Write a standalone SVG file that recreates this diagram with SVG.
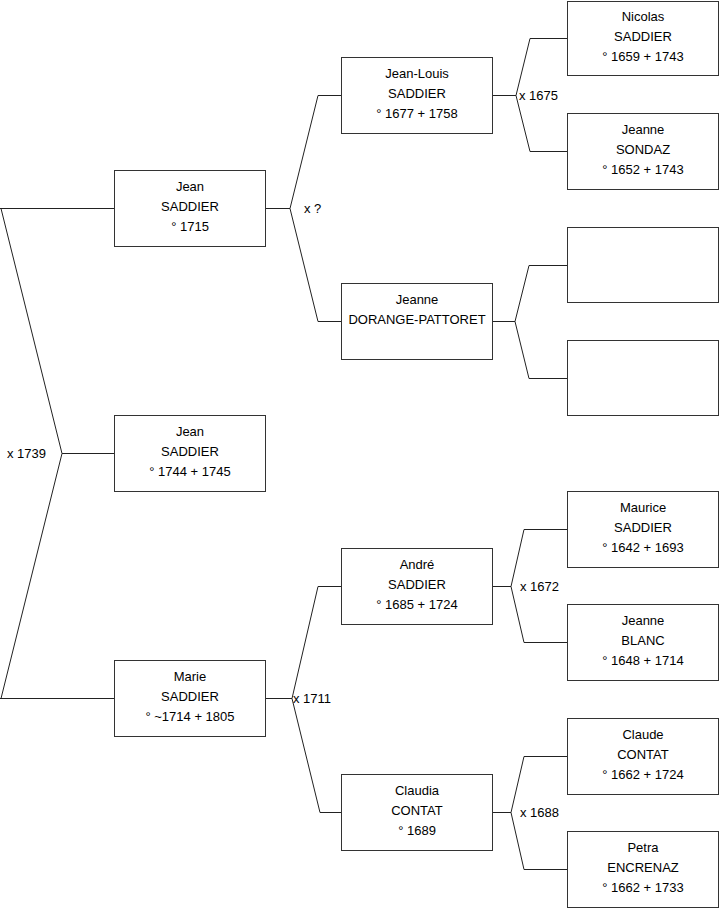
<svg xmlns="http://www.w3.org/2000/svg" width="719" height="908" viewBox="0 0 719 908">
<style>
rect.b{fill:#fff;stroke:#333;stroke-width:1}
text{font-family:"Liberation Sans",Arial,sans-serif;font-size:13px;fill:#000}
.n text{text-anchor:middle}
#connectors path{fill:none;stroke:#222;stroke-width:1}
</style>
<rect width="719" height="908" fill="#fff"/>
<g id="connectors">
<path d="M0,208.5 H114.5 M0,698.5 H114.5 M1,208.5 L62,453.5 L1,698.5 M62,453.5 H114.5"/>
<path d="M265,208.5 H290 M341,95.5 H318 L290,208.5 L318,321.5 H341"/>
<path d="M265,698.5 H292 M341,586.5 H318 L292,698.5 L320,812.5 H341"/>
<path d="M492,95.5 H516 M567,38.5 H530 L516,95.5 L530,151.5 H567"/>
<path d="M492,321.5 H515 M567,265.5 H529 L515,321.5 L529,378.5 H567"/>
<path d="M492,586.5 H511 M567,529.5 H524 L511,586.5 L524,642.5 H567"/>
<path d="M492,812.5 H511 M567,756.5 H524 L511,812.5 L524,869.5 H567"/>
</g>
<g id="labels">
<text x="7" y="458">x 1739</text>
<text x="304" y="212.5">x ?</text>
<text x="293" y="703">x 1711</text>
<text x="519" y="100">x 1675</text>
<text x="520" y="591">x 1672</text>
<text x="520" y="817">x 1688</text>
</g>
<g id="n-jean" class="n"><rect class="b" x="114.5" y="170.5" width="151" height="76"/><text x="190" y="190.5">Jean</text><text x="190" y="210.5">SADDIER</text><text x="190" y="230.5">° 1715</text></g>
<g id="n-jean2" class="n"><rect class="b" x="114.5" y="415.5" width="151" height="76"/><text x="190" y="435.5">Jean</text><text x="190" y="455.5">SADDIER</text><text x="190" y="475.5">° 1744 + 1745</text></g>
<g id="n-marie" class="n"><rect class="b" x="114.5" y="660.5" width="151" height="76"/><text x="190" y="680.5">Marie</text><text x="190" y="700.5">SADDIER</text><text x="190" y="720.5">° ~1714 + 1805</text></g>
<g id="n-jeanlouis" class="n"><rect class="b" x="341.5" y="57.5" width="151" height="76"/><text x="417" y="77.5">Jean-Louis</text><text x="417" y="97.5">SADDIER</text><text x="417" y="117.5">° 1677 + 1758</text></g>
<g id="n-jeanne-dorange" class="n"><rect class="b" x="341.5" y="283.5" width="151" height="76"/><text x="417" y="303.5">Jeanne</text><text x="417" y="323.5">DORANGE-PATTORET</text></g>
<g id="n-andre" class="n"><rect class="b" x="341.5" y="548.5" width="151" height="76"/><text x="417" y="568.5">André</text><text x="417" y="588.5">SADDIER</text><text x="417" y="608.5">° 1685 + 1724</text></g>
<g id="n-claudia" class="n"><rect class="b" x="341.5" y="774.5" width="151" height="76"/><text x="417" y="794.5">Claudia</text><text x="417" y="814.5">CONTAT</text><text x="417" y="834.5">° 1689</text></g>
<g id="n-nicolas" class="n"><rect class="b" x="567.5" y="1.5" width="151" height="74"/><text x="643" y="20.5">Nicolas</text><text x="643" y="40.5">SADDIER</text><text x="643" y="60.5">° 1659 + 1743</text></g>
<g id="n-jeanne-sondaz" class="n"><rect class="b" x="567.5" y="113.5" width="151" height="76"/><text x="643" y="133.5">Jeanne</text><text x="643" y="153.5">SONDAZ</text><text x="643" y="173.5">° 1652 + 1743</text></g>
<g id="n-empty1" class="n"><rect class="b" x="567.5" y="227.5" width="151" height="75"/></g>
<g id="n-empty2" class="n"><rect class="b" x="567.5" y="340.5" width="151" height="75"/></g>
<g id="n-maurice" class="n"><rect class="b" x="567.5" y="491.5" width="151" height="76"/><text x="643" y="511.5">Maurice</text><text x="643" y="531.5">SADDIER</text><text x="643" y="551.5">° 1642 + 1693</text></g>
<g id="n-jeanne-blanc" class="n"><rect class="b" x="567.5" y="604.5" width="151" height="76"/><text x="643" y="624.5">Jeanne</text><text x="643" y="644.5">BLANC</text><text x="643" y="664.5">° 1648 + 1714</text></g>
<g id="n-claude" class="n"><rect class="b" x="567.5" y="718.5" width="151" height="76"/><text x="643" y="738.5">Claude</text><text x="643" y="758.5">CONTAT</text><text x="643" y="778.5">° 1662 + 1724</text></g>
<g id="n-petra" class="n"><rect class="b" x="567.5" y="831.5" width="151" height="76"/><text x="643" y="851.5">Petra</text><text x="643" y="871.5">ENCRENAZ</text><text x="643" y="891.5">° 1662 + 1733</text></g>
</svg>
